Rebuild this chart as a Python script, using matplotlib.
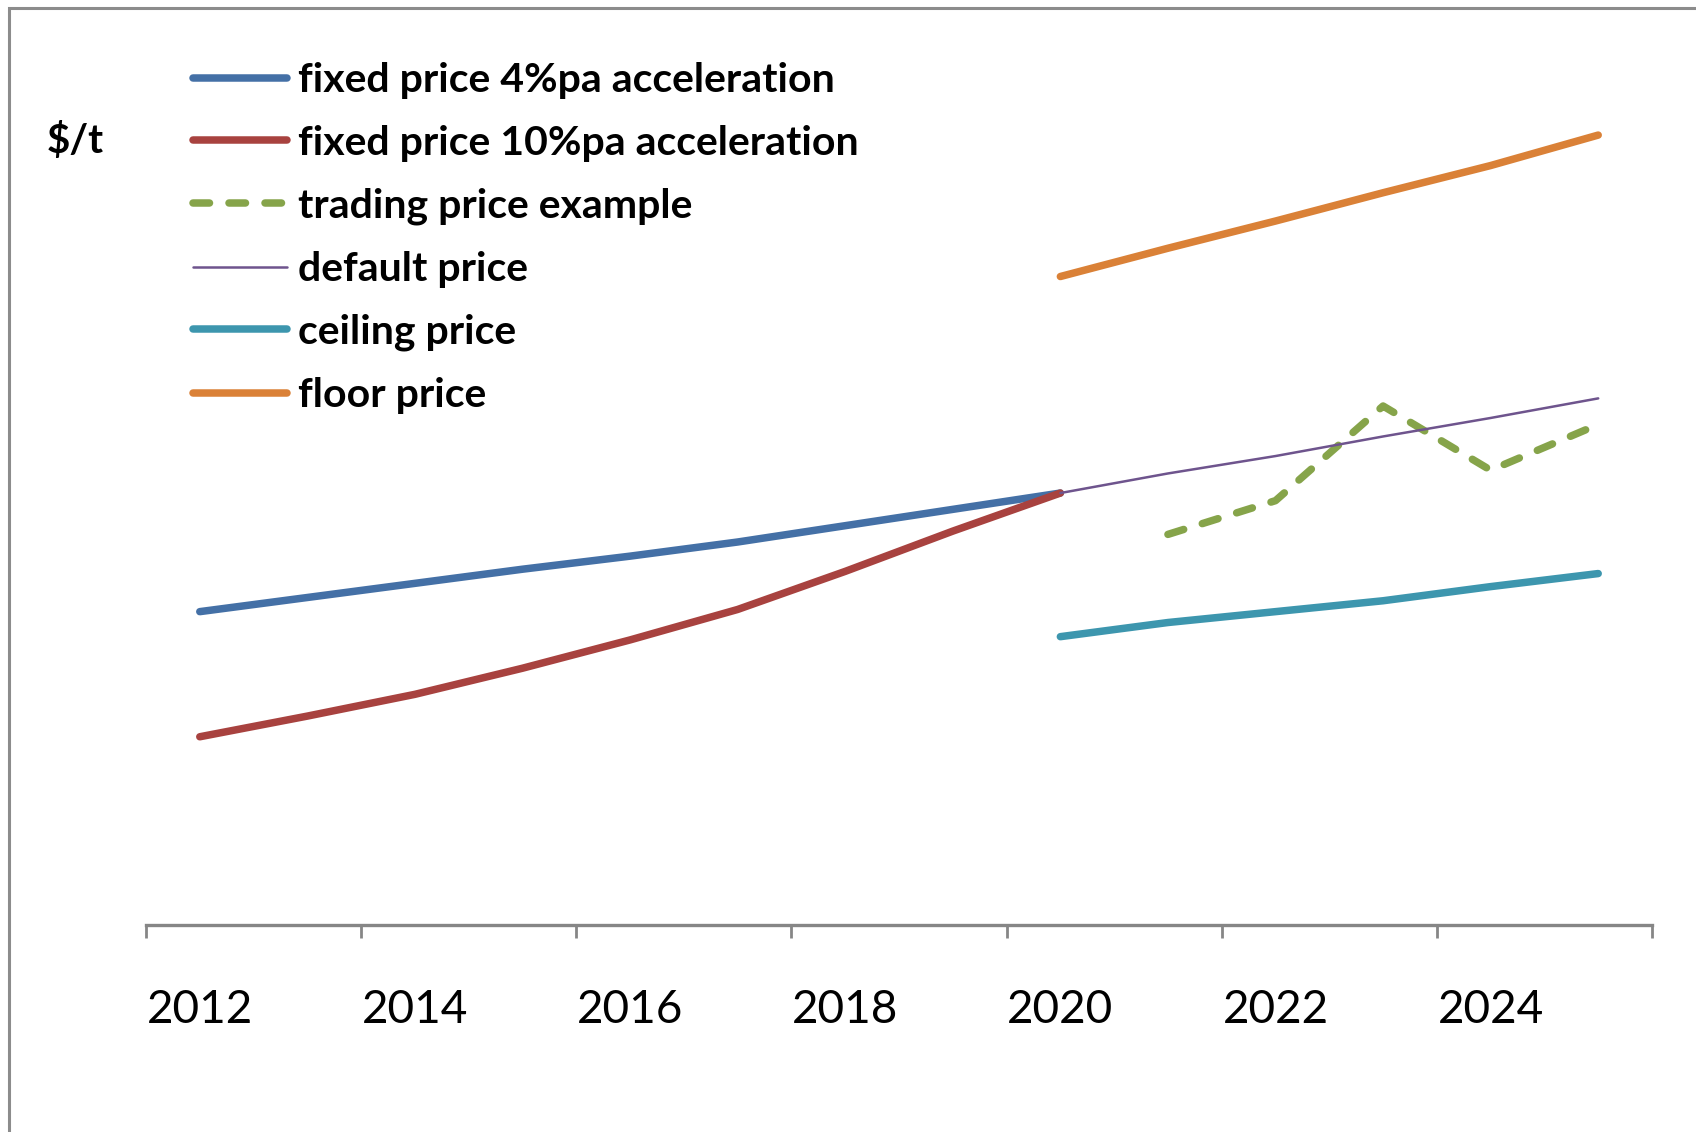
import matplotlib.pyplot as plt
from matplotlib.patches import Rectangle

# years on the category axis, labels every second year
years = list(range(2012, 2026))
tick_labels = ["2012", "2014", "2016", "2018", "2020", "2022", "2024"]

# $/t (no scale shown on the chart, values read relative to the axis)
fixed_4 = [28.8, 30.1, 31.4, 32.7, 33.9, 35.2, 36.7, 38.2, 39.7]           # 2012-2020
fixed_10 = [17.3, 19.2, 21.2, 23.6, 26.2, 29.0, 32.5, 36.2, 39.7]          # 2012-2020
trading = [35.9, 39.0, 47.7, 41.8, 46.0]                                    # 2021-2025
default = [39.7, 41.5, 43.1, 44.9, 46.6, 48.4]                              # 2020-2025
ceiling = [26.5, 27.8, 28.8, 29.8, 31.1, 32.3]                              # 2020-2025
floor = [59.6, 62.2, 64.7, 67.3, 69.8, 72.6]                                # 2020-2025

W, H = 1696, 1132
fig = plt.figure(figsize=(W / 100, H / 100), dpi=100)
plt.rcParams['font.family'] = ['Lato', 'DejaVu Sans']

# chart area border (cut off at right and bottom)
fig.patches.append(Rectangle((9 / W, -0.1), 1.2, 1 - 8 / H + 0.1, transform=fig.transFigure,
                             fill=False, edgecolor='#8c8c8c', linewidth=2.2))

left, right = 146 / W, 1652 / W
bottom, top = 1 - 925 / H, 1 - 60 / H
ax = fig.add_axes([left, bottom, right - left, top - bottom])

x = [y - 2012 for y in years]
x_hist = x[:9]
x_fut = x[8:]

ax.plot(x_hist, fixed_4, color='#4470A6', lw=5.4, solid_capstyle='round', solid_joinstyle='round',
        label='fixed price 4%pa acceleration')
ax.plot(x_hist, fixed_10, color='#A8423F', lw=5.4, solid_capstyle='round', solid_joinstyle='round',
        label='fixed price 10%pa acceleration')
ax.plot(x_fut[1:], trading, color='#86A44A', lw=5.4, dash_capstyle='round', linestyle=(0, (2.2, 2.6)),
        label='trading price example')
ax.plot(x_fut, default, color='#6E548D', lw=1.8, solid_capstyle='round', label='default price')
ax.plot(x_fut, ceiling, color='#3D96AE', lw=5.4, solid_capstyle='round', solid_joinstyle='round',
        label='ceiling price')
ax.plot(x_fut, floor, color='#DA8137', lw=5.4, solid_capstyle='round', solid_joinstyle='round',
        label='floor price')

ax.set_xlim(-0.5, 13.5)
ax.set_ylim(0, 79.5)

for s in ['left', 'right', 'top']:
    ax.spines[s].set_visible(False)
ax.spines['bottom'].set_color('#868686')
ax.spines['bottom'].set_linewidth(2.4)
ax.set_yticks([])

# tick marks on category boundaries, labels on the categories
ax.set_xticks([i - 0.5 for i in range(0, 15, 2)])
ax.set_xticklabels([])
ax.tick_params(axis='x', which='major', length=9.5, width=2, color='#868686', direction='out')
ax.set_xticks(list(range(0, 14, 2)), minor=True)
ax.set_xticklabels(tick_labels, minor=True)
ax.tick_params(axis='x', which='minor', length=0, pad=46, labelsize=33)

leg = ax.legend(loc='upper left', bbox_to_anchor=(193 / W, 1 - 62 / H), bbox_transform=fig.transFigure,
                frameon=False, borderaxespad=0, borderpad=0, handlelength=2.3, handletextpad=0.27,
                labelspacing=0.63, prop={'weight': 'bold', 'size': 29.5})

fig.text(47 / W, 1 - 141 / H, '$/t', fontsize=29, fontweight='bold', va='center', ha='left')

fig.savefig('out.png', dpi=100)
